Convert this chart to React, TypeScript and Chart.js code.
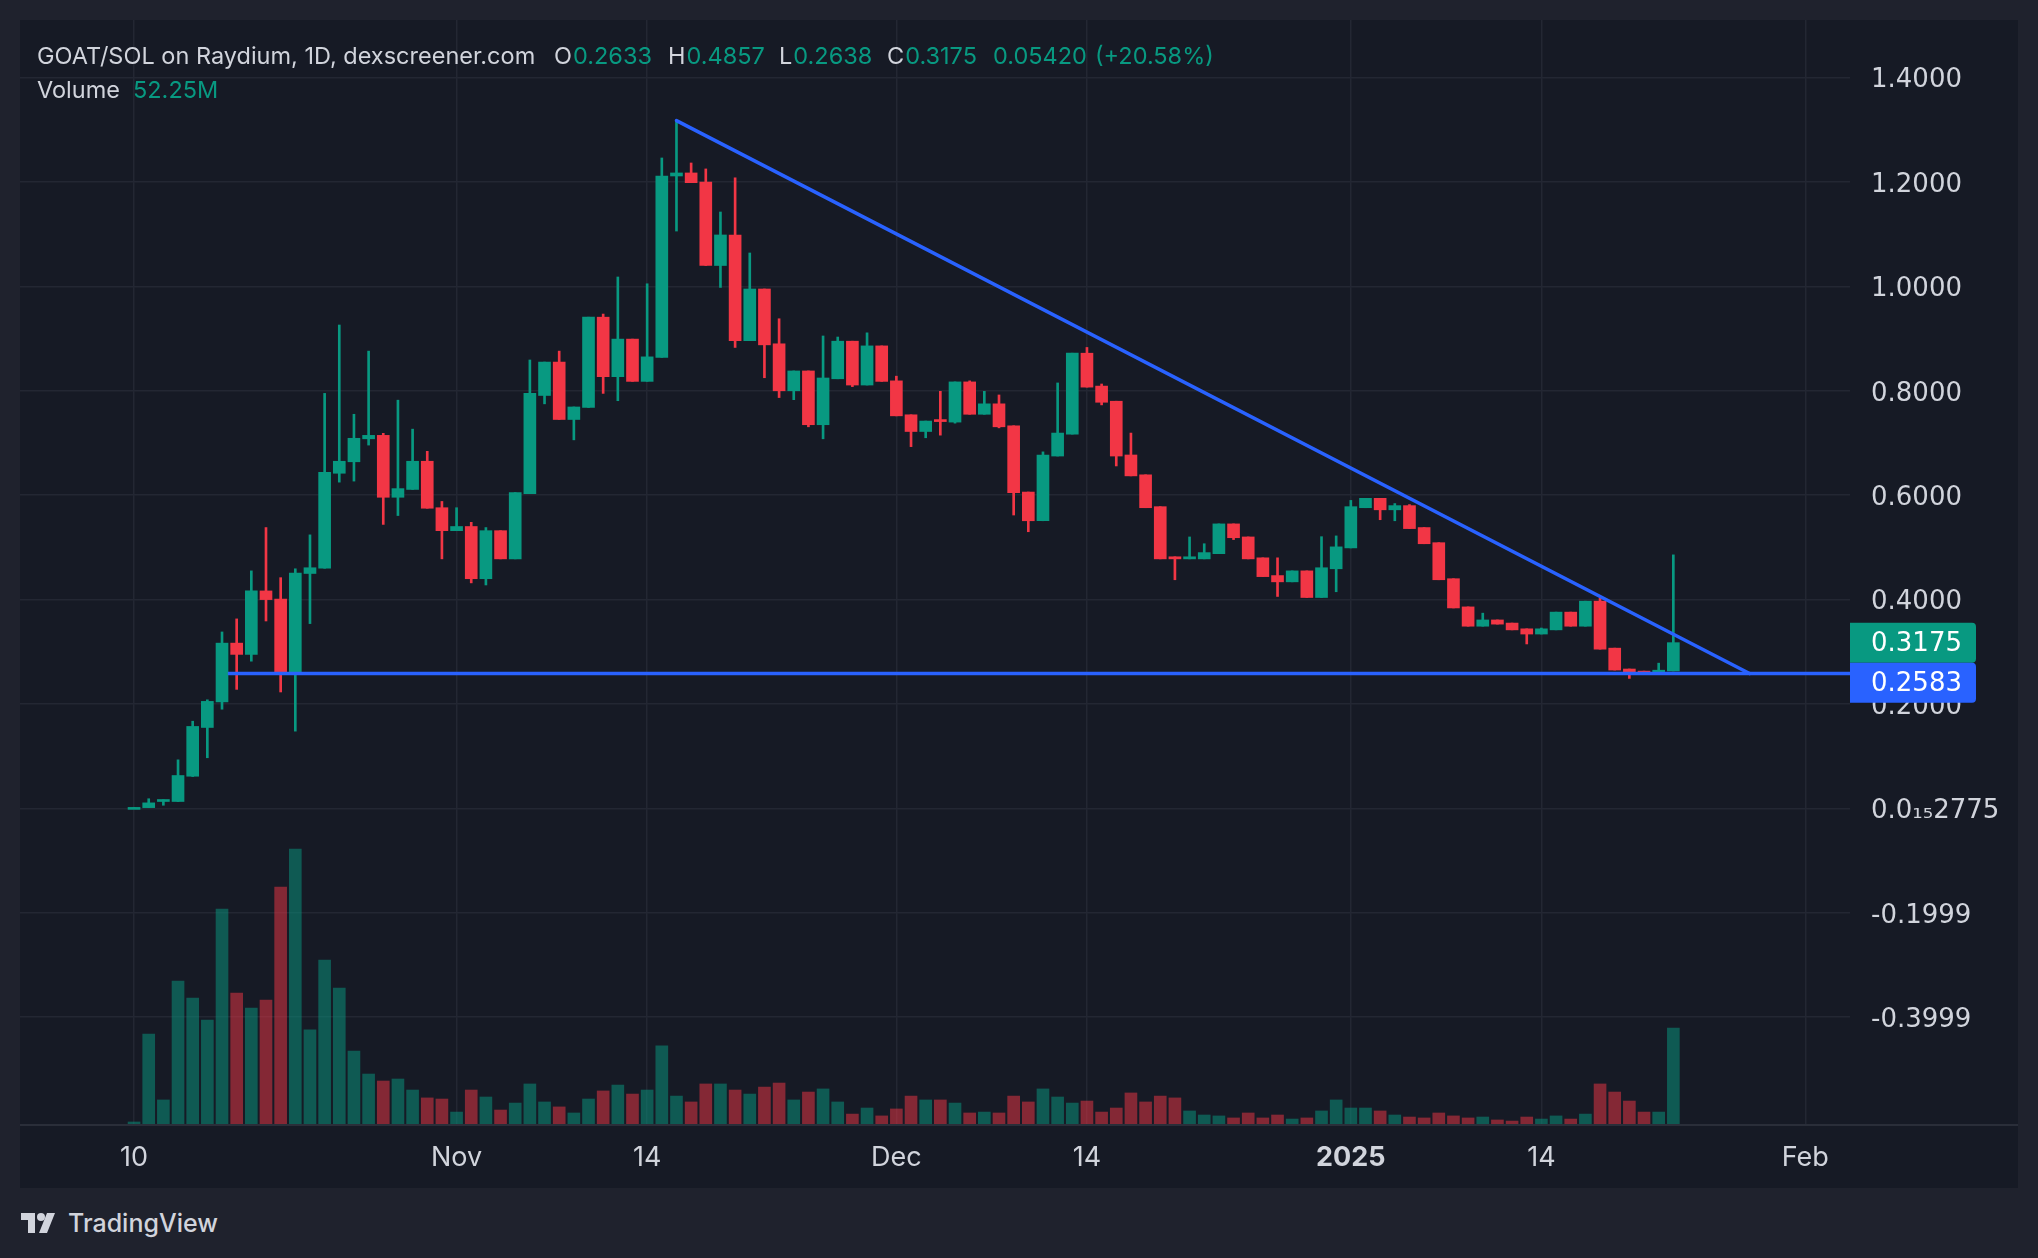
import React, { useEffect, useRef } from 'react';
import { Chart, registerables } from 'chart.js';

Chart.register(...registerables);

// ---------------- DATA ----------------
const START_DATE = '2024-10-10';

const opens = [
  0.0, 0.0, 0.0132, 0.0132, 0.0616, 0.155, 0.204, 0.3166, 0.295, 0.4166,
  0.401, 0.26, 0.45, 0.46, 0.642, 0.664, 0.708, 0.7146, 0.596, 0.611,
  0.665, 0.576, 0.532, 0.54, 0.44, 0.532, 0.478, 0.603, 0.791, 0.855,
  0.745, 0.768, 0.941, 0.827, 0.899, 0.818, 0.864, 1.2115, 1.2173, 1.2,
  1.04, 1.0985, 0.896, 0.995, 0.89, 0.8, 0.838, 0.735, 0.823, 0.895,
  0.811, 0.886, 0.819, 0.754, 0.722, 0.744, 0.74, 0.817, 0.755, 0.775,
  0.733, 0.606, 0.551, 0.675, 0.717, 0.872, 0.809, 0.78, 0.677, 0.639,
  0.578, 0.482, 0.478, 0.478, 0.488, 0.545, 0.52, 0.48, 0.446, 0.434,
  0.455, 0.404, 0.459, 0.499, 0.576, 0.594, 0.572, 0.58, 0.538, 0.509,
  0.44, 0.386, 0.349, 0.361, 0.355, 0.344, 0.334, 0.342, 0.376, 0.349,
  0.397, 0.307, 0.267, 0.263, 0.2609, 0.2633,
];

const highs = [
  0.002, 0.0185, 0.0165, 0.093, 0.167, 0.208, 0.338, 0.363, 0.455, 0.538,
  0.442, 0.459, 0.524, 0.795, 0.926, 0.755, 0.876, 0.7185, 0.782, 0.7265,
  0.684, 0.588, 0.576, 0.548, 0.538, 0.532, 0.605, 0.859, 0.855, 0.876,
  0.769, 0.941, 0.947, 1.018, 0.899, 1.005, 1.246, 1.3175, 1.2364, 1.225,
  1.1425, 1.208, 1.064, 0.995, 0.938, 0.838, 0.838, 0.905, 0.903, 0.895,
  0.911, 0.886, 0.828, 0.754, 0.742, 0.799, 0.817, 0.819, 0.799, 0.792,
  0.733, 0.606, 0.683, 0.815, 0.872, 0.883, 0.813, 0.78, 0.719, 0.639,
  0.578, 0.482, 0.52, 0.507, 0.545, 0.545, 0.52, 0.48, 0.48, 0.455,
  0.455, 0.5205, 0.522, 0.59, 0.594, 0.594, 0.584, 0.582, 0.538, 0.509,
  0.44, 0.386, 0.374, 0.361, 0.355, 0.344, 0.3455, 0.376, 0.376, 0.397,
  0.403, 0.307, 0.267, 0.263, 0.2782, 0.4857,
];

const lows = [
  0.0, 0.0, 0.006, 0.013, 0.061, 0.097, 0.19, 0.228, 0.282, 0.359,
  0.223, 0.148, 0.354, 0.46, 0.625, 0.627, 0.696, 0.544, 0.561, 0.611,
  0.575, 0.478, 0.532, 0.432, 0.428, 0.478, 0.478, 0.603, 0.775, 0.745,
  0.706, 0.768, 0.795, 0.781, 0.818, 0.818, 0.864, 1.106, 1.1987, 1.04,
  0.998, 0.883, 0.896, 0.825, 0.787, 0.783, 0.731, 0.708, 0.823, 0.808,
  0.811, 0.818, 0.752, 0.693, 0.71, 0.715, 0.738, 0.755, 0.755, 0.729,
  0.562, 0.53, 0.551, 0.675, 0.717, 0.807, 0.773, 0.656, 0.637, 0.576,
  0.478, 0.438, 0.478, 0.478, 0.488, 0.515, 0.478, 0.444, 0.406, 0.434,
  0.404, 0.404, 0.415, 0.499, 0.576, 0.553, 0.551, 0.536, 0.507, 0.438,
  0.384, 0.349, 0.349, 0.353, 0.342, 0.315, 0.334, 0.342, 0.349, 0.349,
  0.305, 0.265, 0.249, 0.259, 0.2609, 0.2633,
];

const closes = [
  0.002, 0.0106, 0.0165, 0.063, 0.157, 0.205, 0.3166, 0.295, 0.4166, 0.4,
  0.26, 0.451, 0.461, 0.644, 0.665, 0.709, 0.7146, 0.596, 0.6126, 0.665,
  0.575, 0.532, 0.54, 0.44, 0.532, 0.478, 0.605, 0.795, 0.855, 0.745,
  0.769, 0.941, 0.827, 0.899, 0.818, 0.865, 1.2115, 1.2173, 1.1987, 1.04,
  1.0985, 0.896, 0.995, 0.888, 0.8, 0.838, 0.735, 0.8245, 0.895, 0.811,
  0.886, 0.818, 0.752, 0.722, 0.742, 0.741, 0.817, 0.755, 0.775, 0.731,
  0.605, 0.551, 0.677, 0.719, 0.872, 0.807, 0.778, 0.675, 0.637, 0.576,
  0.478, 0.478, 0.482, 0.49, 0.545, 0.5185, 0.478, 0.444, 0.434, 0.455,
  0.404, 0.461, 0.501, 0.578, 0.594, 0.572, 0.58, 0.536, 0.507, 0.438,
  0.384, 0.349, 0.361, 0.353, 0.342, 0.334, 0.344, 0.376, 0.349, 0.397,
  0.305, 0.265, 0.259, 0.259, 0.2633, 0.3175,
];

// volume in millions
const volumes = [
  1.1, 49.0, 13.1, 77.8, 68.6, 56.6, 117.0, 71.3, 63.1, 67.5,
  129.0, 149.7, 51.2, 89.3, 74.0, 39.7, 27.2, 23.4, 24.5, 18.5,
  14.2, 13.6, 6.5, 18.5, 14.7, 7.6, 11.4, 21.8, 12.0, 9.3,
  6.0, 13.6, 18.0, 21.2, 16.3, 18.5, 42.5, 15.2, 12.0, 21.8,
  21.8, 18.5, 16.3, 20.1, 22.3, 13.1, 17.4, 19.1, 12.0, 5.4,
  8.7, 4.4, 8.2, 15.2, 13.1, 13.1, 11.4, 6.0, 6.5, 6.0,
  15.2, 12.0, 19.1, 14.7, 11.4, 12.5, 6.5, 8.7, 16.9, 12.0,
  15.2, 14.2, 7.1, 4.9, 4.4, 3.3, 6.0, 3.3, 4.9, 2.7,
  3.3, 7.1, 13.1, 8.7, 8.7, 7.1, 4.9, 3.8, 3.3, 6.0,
  4.4, 3.3, 3.8, 2.2, 1.6, 3.8, 2.7, 4.4, 2.7, 5.4,
  21.8, 17.4, 12.5, 6.5, 6.5, 52.25,
];

const xTickDates = ['2024-10-10', '2024-11-01', '2024-11-14', '2024-12-01', '2024-12-14', '2025-01-01', '2025-01-14', '2025-02-01'];
const xTickLabels = ['10', 'Nov', '14', 'Dec', '14', '2025', '14', 'Feb'];

const priceTicks = [-0.4, -0.2, 0, 0.2, 0.4, 0.6, 0.8, 1.0, 1.2, 1.4];
const priceTickLabels = ['-0.3999', '-0.1999', '0.0\u2081\u20852775', '0.2000', '0.4000', '0.6000', '0.8000', '1.0000', '1.2000', '1.4000'];

// drawn lines: day offsets from START_DATE and prices
const trendX = [37, 110.2];
const trendY = [1.3175, 0.2583];
const supportX = [6.4, 125];
const supportY = [0.2583, 0.2583];

const lastClose = 0.3175;
const supportLevel = 0.2583;

const headerTitle = 'GOAT/SOL on Raydium, 1D, dexscreener.com';
const headerOHLC = [
  { k: 'O', v: '0.2633', x: 554 },
  { k: 'H', v: '0.4857', x: 668 },
  { k: 'L', v: '0.2638', x: 779 },
  { k: 'C', v: '0.3175', x: 887 },
];
const headerChange = '0.05420';
const headerChangePct = '(+20.58%)';
const volumeLabel = '52.25M';

// ---------------- STYLE ----------------
const FONT = 'Inter, "Noto Sans", "DejaVu Sans", sans-serif';
const AXIS_FONT = '"DejaVu Sans", Inter, sans-serif';
const UP = '#089981';
const DOWN = '#f23645';
const UP_VOL = 'rgba(8,153,129,0.5)';
const DOWN_VOL = 'rgba(242,54,69,0.5)';
const BLUE = '#2962ff';
const GRID = '#232733';
const TEXT = '#d1d4dc';
const PANEL_BG = '#161a25';
const PAGE_BG = '#1f222d';

const dayIndex = (d: string) => Math.round((Date.parse(d) - Date.parse(START_DATE)) / 86400000);

export default function App() {
  const ref = useRef<HTMLCanvasElement>(null);

  useEffect(() => {
    const canvas = ref.current;
    if (!canvas) return;

    const isUp = closes.map((c, i) => c >= opens[i]);
    const bodyColors = isUp.map((u) => (u ? UP : DOWN));
    const volColors = isUp.map((u) => (u ? UP_VOL : DOWN_VOL));
    const bodies = opens.map((o, i) => ({ x: i, y: [o, closes[i]] }));
    const wicks = lows.map((l, i) => ({ x: i, y: [l, highs[i]] }));
    const vols = volumes.map((v, i) => ({ x: i, y: v }));
    const trend = trendX.map((x, i) => ({ x, y: trendY[i] }));
    const support = supportX.map((x, i) => ({ x, y: supportY[i] }));
    const tickDays = xTickDates.map(dayIndex);
    const boldIdx = xTickLabels.indexOf('2025');

    const labelPlugin = {
      id: 'priceLabels',
      afterDraw(chart: any) {
        const { ctx, chartArea, scales } = chart;
        const ys = scales.y;
        const boxH = 40;
        const boxW = 126;
        const x0 = chartArea.right;
        const y1 = ys.getPixelForValue(lastClose);
        const y2 = ys.getPixelForValue(supportLevel);
        const top1 = y1 - boxH / 2;
        const top2 = Math.max(y2 - boxH / 2, top1 + boxH);
        const drawBox = (top: number, color: string, text: string) => {
          ctx.save();
          ctx.fillStyle = color;
          ctx.beginPath();
          const r = 4;
          ctx.moveTo(x0, top);
          ctx.lineTo(x0 + boxW - r, top);
          ctx.quadraticCurveTo(x0 + boxW, top, x0 + boxW, top + r);
          ctx.lineTo(x0 + boxW, top + boxH - r);
          ctx.quadraticCurveTo(x0 + boxW, top + boxH, x0 + boxW - r, top + boxH);
          ctx.lineTo(x0, top + boxH);
          ctx.closePath();
          ctx.fill();
          ctx.fillStyle = '#ffffff';
          ctx.font = `26px ${AXIS_FONT}`;
          ctx.textBaseline = 'middle';
          ctx.textAlign = 'left';
          ctx.fillText(text, x0 + 21, top + boxH / 2 + 2);
          ctx.restore();
        };
        drawBox(top1, UP, lastClose.toFixed(4));
        drawBox(top2, BLUE, supportLevel.toFixed(4));
        // axis separator line
        ctx.save();
        ctx.fillStyle = '#2a2e39';
        ctx.fillRect(0, chartArea.bottom, chart.width, 2);
        ctx.restore();
      },
    };

    const chart = new Chart(canvas, {
      type: 'bar',
      data: {
        datasets: [
          {
            type: 'line',
            data: trend,
            yAxisID: 'y',
            borderColor: BLUE,
            borderWidth: 3.5,
            pointRadius: 0,
            borderCapStyle: 'round',
            order: 0,
          } as any,
          {
            type: 'line',
            data: support,
            yAxisID: 'y',
            borderColor: BLUE,
            borderWidth: 3.5,
            pointRadius: 0,
            order: 0,
          } as any,
          {
            type: 'bar',
            data: bodies,
            yAxisID: 'y',
            backgroundColor: bodyColors,
            barThickness: 12,
            minBarLength: 2,
            grouped: false,
            borderWidth: 0,
            order: 1,
          } as any,
          {
            type: 'bar',
            data: wicks,
            yAxisID: 'y',
            backgroundColor: bodyColors,
            barThickness: 2,
            grouped: false,
            borderWidth: 0,
            order: 2,
          } as any,
          {
            type: 'bar',
            data: vols,
            yAxisID: 'yv',
            backgroundColor: volColors,
            barThickness: 12,
            grouped: false,
            borderWidth: 0,
            order: 3,
          } as any,
        ],
      },
      options: {
        animation: false,
        responsive: false,
        maintainAspectRatio: false,
        layout: { padding: 0 },
        plugins: {
          legend: { display: false },
          tooltip: { enabled: false },
        },
        scales: {
          x: {
            type: 'linear',
            min: -7.78,
            max: 117.05,
            offset: false,
            grid: { color: GRID, lineWidth: 1.5, drawTicks: false, offset: false },
            border: { display: false },
            afterBuildTicks: (s: any) => {
              s.ticks = tickDays.map((v) => ({ value: v }));
            },
            afterFit: (s: any) => {
              s.height = 64;
              s.paddingLeft = 0;
              s.paddingRight = 0;
            },
            ticks: {
              autoSkip: false,
              maxRotation: 0,
              padding: 18,
              color: TEXT,
              font: (c: any) => ({ family: FONT, size: 27, weight: c.index === boldIdx ? 'bold' : 'normal' }),
              callback: (v: any) => {
                const i = tickDays.findIndex((t) => Math.abs(t - v) < 1e-6);
                return i >= 0 ? xTickLabels[i] : '';
              },
            },
          },
          y: {
            type: 'linear',
            position: 'right',
            min: -0.6046,
            max: 1.5103,
            grid: { color: GRID, lineWidth: 1.5, drawTicks: false },
            border: { display: false },
            afterBuildTicks: (s: any) => {
              s.ticks = priceTicks.map((v) => ({ value: v }));
            },
            afterFit: (s: any) => {
              s.width = 168;
              s.paddingTop = 0;
              s.paddingBottom = 0;
            },
            ticks: {
              crossAlign: 'near',
              padding: 21,
              labelOffset: 3,
              color: TEXT,
              font: { family: AXIS_FONT, size: 26 },
              callback: (v: any) => {
                const i = priceTicks.findIndex((t) => Math.abs(t - v) < 1e-6);
                return i >= 0 ? priceTickLabels[i] : '';
              },
            },
          },
          yv: {
            type: 'linear',
            display: false,
            min: 0,
            max: 601,
          },
        },
      } as any,
      plugins: [labelPlugin],
    });

    return () => chart.destroy();
  }, []);

  const headerStyle: React.CSSProperties = {
    position: 'absolute',
    font: `23.5px ${FONT}`,
    lineHeight: '34px',
    whiteSpace: 'nowrap',
    color: TEXT,
  };

  return (
    <div style={{ position: 'fixed', left: 0, top: 0, width: 2038, height: 1258, background: PAGE_BG, overflow: 'hidden' }}>
      <div style={{ position: 'absolute', left: 20, top: 20, width: 1998, height: 1168, background: PANEL_BG }}>
        <canvas ref={ref} width={1998} height={1168} style={{ display: 'block', width: 1998, height: 1168 }} />
      </div>
      <div style={{ ...headerStyle, left: 37, top: 39 }}>{headerTitle}</div>
      {headerOHLC.map((h) => (
        <div key={h.k} style={{ ...headerStyle, left: h.x, top: 39 }}>
          {h.k}
          <span style={{ color: UP, marginLeft: 1 }}>{h.v}</span>
        </div>
      ))}
      <div style={{ ...headerStyle, left: 993, top: 39, color: UP }}>{headerChange}</div>
      <div style={{ ...headerStyle, left: 1095, top: 39, color: UP }}>{headerChangePct}</div>
      <div style={{ ...headerStyle, left: 37, top: 73 }}>Volume</div>
      <div style={{ ...headerStyle, left: 133, top: 73, color: UP }}>{volumeLabel}</div>
      <div style={{ position: 'absolute', left: 21, top: 1208, display: 'flex', alignItems: 'center' }}>
        <svg width="40" height="24" viewBox="0 0 40 24">
          <path d="M0 2 H14 V22 H7 V9 H0 Z" fill={TEXT} />
          <circle cx="20" cy="6" r="4" fill={TEXT} />
          <path d="M26 2 H34 L26 22 H18 Z" fill={TEXT} />
        </svg>
        <span style={{ font: `500 25px ${FONT}`, color: TEXT, marginLeft: 7 }}>TradingView</span>
      </div>
    </div>
  );
}
